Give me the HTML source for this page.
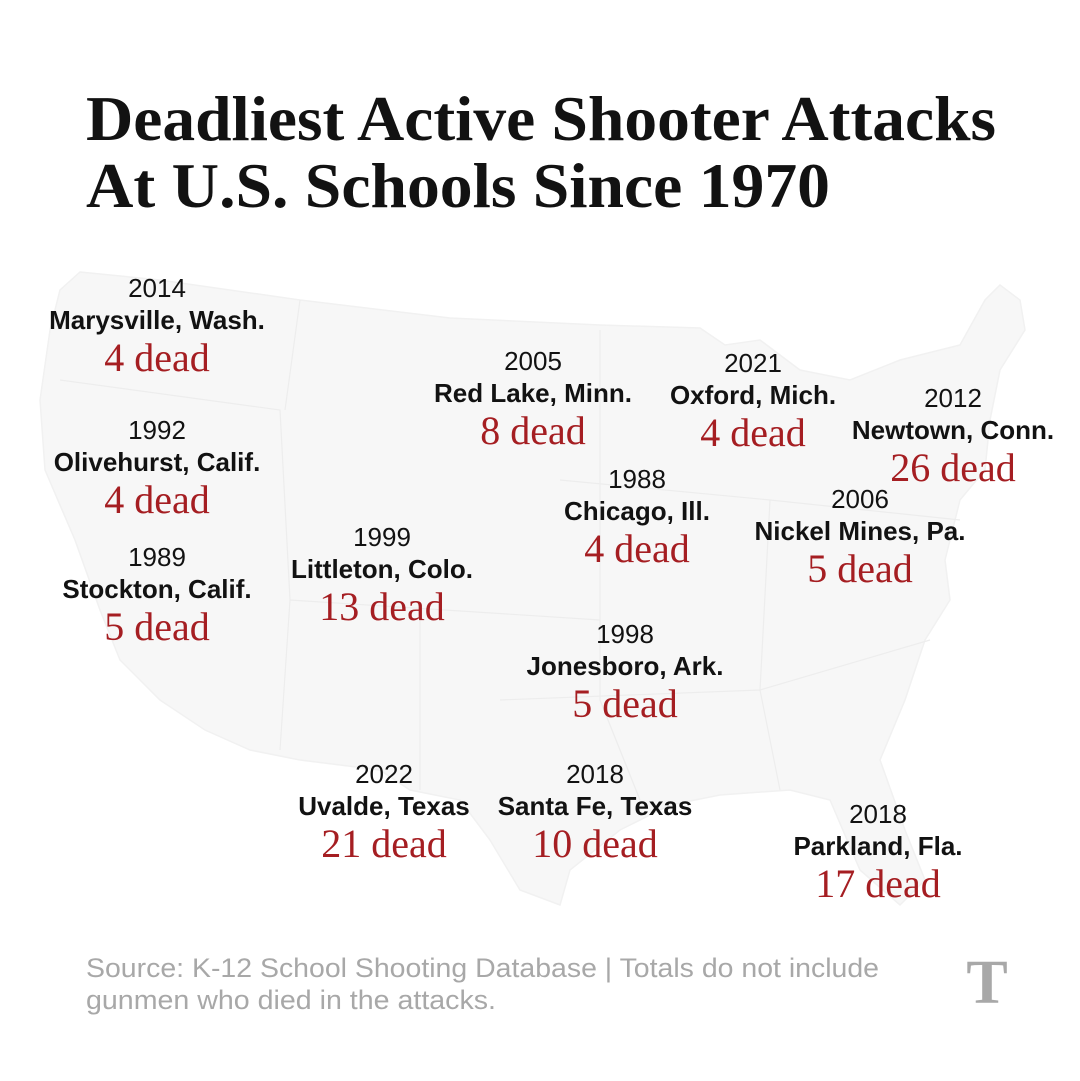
<!DOCTYPE html>
<html><head><meta charset="utf-8"><style>
html,body{margin:0;padding:0;background:#fff;}
svg{display:block;}
.t{font-family:"Liberation Serif",serif;font-weight:bold;font-size:63px;fill:#121212;}
.yr{font-family:"Liberation Sans",sans-serif;font-size:26px;fill:#121212;}
.ct{font-family:"Liberation Sans",sans-serif;font-weight:bold;font-size:26px;fill:#121212;}
.dd{font-family:"Liberation Serif",serif;font-size:40px;fill:#a51e22;}
.src{font-family:"Liberation Sans",sans-serif;font-size:27px;fill:#a8a8a8;}
</style></head><body>
<svg id="chart" width="1080" height="1081" viewBox="0 0 1080 1081" xmlns="http://www.w3.org/2000/svg">
<g>
<text class="t" x="86" y="140" textLength="910" lengthAdjust="spacingAndGlyphs">Deadliest Active Shooter Attacks</text>
<text class="t" x="86" y="207" textLength="744" lengthAdjust="spacingAndGlyphs">At U.S. Schools Since 1970</text>
</g>
<path fill="#f7f7f7" stroke="#f1f1f1" stroke-width="1.5"
d="M80,272 L160,280 L300,300 L450,318 L600,325 L700,328 L725,345 L760,340 L800,370 L850,380 L900,360 L960,345 L985,300 L1000,285 L1020,300 L1025,330 L1000,370 L990,420 L985,470 L960,500 L945,560 L950,600 L925,640 L905,700 L880,760 L905,830 L925,880 L900,905 L860,870 L830,800 L790,790 L720,795 L670,805 L620,830 L570,870 L560,905 L520,890 L490,840 L460,800 L410,790 L380,770 L300,760 L250,750 L205,730 L160,700 L120,660 L100,610 L75,540 L45,470 L40,400 L50,330 L60,290 Z"/>
<g stroke="#ededed" stroke-width="1.2" fill="none">
<path d="M60,380 L280,410 L290,600 L600,620"/>
<path d="M285,410 L300,300"/>
<path d="M290,600 L280,750"/>
<path d="M420,620 L420,790"/>
<path d="M600,330 L600,700 L640,800"/>
<path d="M560,480 L770,500 L960,520"/>
<path d="M500,700 L760,690 L930,640"/>
<path d="M770,500 L760,690 L780,790"/>
</g>
<g id="labels"></g>
<g>
<text class="src" x="86" y="977" textLength="793" lengthAdjust="spacingAndGlyphs">Source: K-12 School Shooting Database | Totals do not include</text>
<text class="src" x="86" y="1009" textLength="410" lengthAdjust="spacingAndGlyphs">gunmen who died in the attacks.</text>
<text x="987" y="1003" text-anchor="middle" style="font-family:'Liberation Serif',serif;font-weight:bold;font-size:62px;fill:#a8a8a8;">T</text>
</g>
</svg>
<script>
const years=[2014,1992,1989,1999,2005,2021,2012,1988,2006,1998,2022,2018,2018];
const cities=["Marysville, Wash.","Olivehurst, Calif.","Stockton, Calif.","Littleton, Colo.","Red Lake, Minn.","Oxford, Mich.","Newtown, Conn.","Chicago, Ill.","Nickel Mines, Pa.","Jonesboro, Ark.","Uvalde, Texas","Santa Fe, Texas","Parkland, Fla."];
const deaths=[4,4,5,13,8,4,26,4,5,5,21,10,17];
const anchorX=[157,157,157,382,533,753,953,637,860,625,384,595,878];
const anchorY=[297,439,566,546,370,372,407,488,508,643,783,783,823];
const NS="http://www.w3.org/2000/svg";
const g=document.getElementById('labels');
function txt(cls,x,y,s){const t=document.createElementNS(NS,'text');t.setAttribute('class',cls);t.setAttribute('x',x);t.setAttribute('y',y);t.setAttribute('text-anchor','middle');t.textContent=s;return t;}
for(let i=0;i<years.length;i++){
  const grp=document.createElementNS(NS,'g');
  
  
  const x=anchorX[i],y=anchorY[i];
  const a=txt('yr',x,y,String(years[i]));
  
  
  const b=txt('ct',x,y+32,cities[i]);
  
  
  const c=txt('dd',x,y+74,deaths[i]+' dead');
  
  
  grp.appendChild(a);grp.appendChild(b);grp.appendChild(c);g.appendChild(grp);
}
</script>
</body></html>
